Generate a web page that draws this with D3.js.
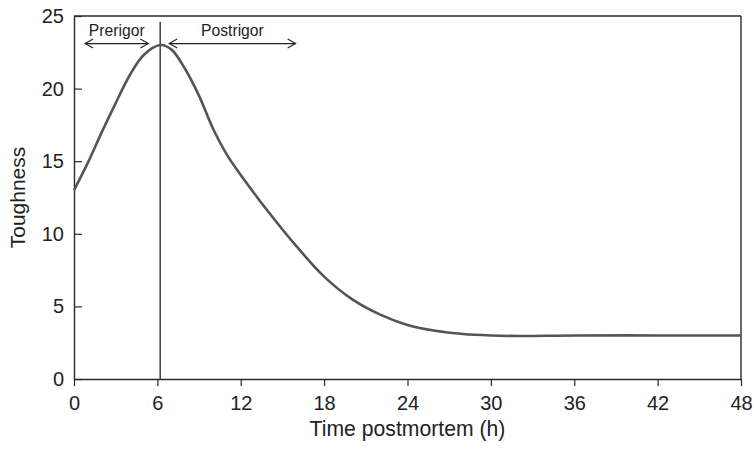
<!DOCTYPE html>
<html>
<head>
<meta charset="utf-8">
<script src="https://cdn.jsdelivr.net/npm/d3@7/dist/d3.min.js"></script>
<style>
  html, body { margin: 0; padding: 0; background: #fff; }
  svg { display: block; font-family: "Liberation Sans", Arial, Helvetica, sans-serif; }
</style>
</head>
<body>
<svg id="chart" width="754" height="449"></svg>
<script>
// ---- data ----
const hours     = [0, 1, 2, 3, 4, 5, 6.2, 7, 8, 9, 10, 11, 12, 14, 16, 18, 20, 22, 24, 26, 28, 30, 32, 36, 42, 48];
const toughness = [13.0, 14.9, 17.0, 19.0, 20.9, 22.3, 23.0, 22.7, 21.35, 19.5, 17.25, 15.45, 14.05, 11.5, 9.15, 7.05, 5.5, 4.45, 3.72, 3.32, 3.1, 3.0, 2.96, 3.0, 3.0, 3.0];
const xTicks = [0, 6, 12, 18, 24, 30, 36, 42, 48];
const yTicks = [0, 5, 10, 15, 20, 25];
const rigorTime = 6.2;
const phaseLabels = ["Prerigor", "Postrigor"];
const phaseArrows = [[0.8, 5.35], [6.85, 15.95]];
const arrowLevel = 23.1;
const markerTop = 24.6;
const xTitle = "Time postmortem (h)";
const yTitle = "Toughness";

// ---- layout ----
const L = 74, R = 741, T = 16, B = 379;
const svg = d3.select("#chart");
const x = d3.scaleLinear().domain([0, 48]).range([L, R]);
const y = d3.scaleLinear().domain([0, 25]).range([B, T]);
const axisColor = "#2a2a2a";

// frame (top/right)
svg.append("line").attr("x1", L).attr("x2", R).attr("y1", T).attr("y2", T)
  .attr("stroke", axisColor).attr("stroke-width", 1.4);
svg.append("line").attr("x1", R).attr("x2", R).attr("y1", T).attr("y2", B)
  .attr("stroke", axisColor).attr("stroke-width", 1.4);

// x axis
const xAxis = svg.append("g").attr("transform", `translate(0,${B})`)
  .call(d3.axisBottom(x).tickValues(xTicks).tickSize(7).tickPadding(10).tickSizeOuter(0));
xAxis.select(".domain").attr("stroke", axisColor).attr("stroke-width", 1.4);
xAxis.selectAll(".tick line").attr("stroke", axisColor).attr("stroke-width", 1.2);
xAxis.selectAll("text").attr("font-size", 20).attr("fill", "#222")
  .attr("font-family", "Liberation Sans, Arial, sans-serif");

// y axis (ticks inside)
const yAxis = svg.append("g").attr("transform", `translate(${L},0)`)
  .call(d3.axisLeft(y).tickValues(yTicks).tickSize(-8).tickPadding(10).tickSizeOuter(0));
yAxis.select(".domain").attr("stroke", axisColor).attr("stroke-width", 1.4);
yAxis.selectAll(".tick line").attr("stroke", axisColor).attr("stroke-width", 1.2);
yAxis.selectAll("text").attr("font-size", 20).attr("fill", "#222")
  .attr("font-family", "Liberation Sans, Arial, sans-serif")
  .attr("x", -10);

// axis titles
svg.append("text").attr("x", (L + R) / 2).attr("y", 436).attr("text-anchor", "middle")
  .attr("font-size", 21.2).attr("fill", "#222").text(xTitle);
svg.append("text").attr("transform", `translate(25,${(T + B) / 2}) rotate(-90)`)
  .attr("text-anchor", "middle").attr("font-size", 21).attr("fill", "#222").text(yTitle);

// vertical rigor line
svg.append("line").attr("x1", x(rigorTime)).attr("x2", x(rigorTime))
  .attr("y1", y(markerTop)).attr("y2", y(0)).attr("stroke", "#111").attr("stroke-width", 1.2);

// curve
const pts = hours.map((h, i) => [h, toughness[i]]);
const line = d3.line().x(d => x(d[0])).y(d => y(d[1])).curve(d3.curveCatmullRom.alpha(0.5));
svg.append("path").datum(pts).attr("d", line).attr("fill", "none")
  .attr("stroke", "#555").attr("stroke-width", 2.6).attr("stroke-linejoin", "round");

// phase arrows
const ay = y(arrowLevel);
phaseArrows.forEach((a, i) => {
  const x1 = x(a[0]), x2 = x(a[1]);
  const g = svg.append("g").attr("stroke", "#222").attr("stroke-width", 1.1).attr("fill", "none");
  g.append("line").attr("x1", x1).attr("x2", x2).attr("y1", ay).attr("y2", ay);
  g.append("path").attr("d", `M${x1 + 8},${ay - 4.5} L${x1},${ay} L${x1 + 8},${ay + 4.5}`);
  g.append("path").attr("d", `M${x2 - 8},${ay - 4.5} L${x2},${ay} L${x2 - 8},${ay + 4.5}`);
  svg.append("text").attr("x", (x1 + x2) / 2).attr("y", 36).attr("text-anchor", "middle")
    .attr("font-size", 15.7).attr("fill", "#222").text(phaseLabels[i]);
});
</script>
</body>
</html>
